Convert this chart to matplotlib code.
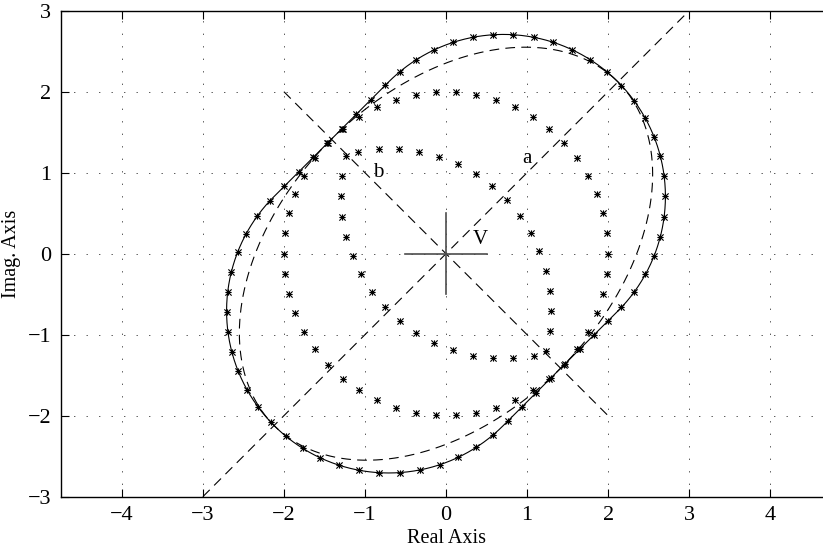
import numpy as np
import matplotlib
matplotlib.use("Agg")
import matplotlib.pyplot as plt
from matplotlib.path import Path

# Geometrie
radius = 2.0            # Kreis um V (nur Marker)
n_steps = 50            # Marker auf dem Kreis, 7.2 Grad Abstand
a_angle = 45.0          # Richtung der Achse a in Grad
half_len = 1.0          # halbe Laenge der Strecke entlang a
ell_a = 3.0             # gestrichelte Ellipse, Halbachse entlang a
ell_b = 2.0             # gestrichelte Ellipse, Halbachse entlang b
a_line = [-3.0, 3.0]    # gestrichelte Achse a (y = x)
b_line = [-2.0, 2.0]    # gestrichelte Achse b (y = -x)
cross_half = 0.5        # Kreuz bei V
x_ticks = [-4, -3, -2, -1, 0, 1, 2, 3, 4]
y_ticks = [-3, -2, -1, 0, 1, 2, 3]
text_labels = ["a", "b", "V"]
text_x = [1.0, -0.84, 0.42]
text_y = [1.18, 1.0, 0.17]

plt.rcParams["font.family"] = ["Liberation Serif", "DejaVu Serif"]
plt.rcParams["lines.scale_dashes"] = False

# Sternmarker wie bei MATLAB: + und x uebereinander
star = Path([(-1, 0), (1, 0), (0, -1), (0, 1), (-1, -1), (1, 1), (-1, 1), (1, -1)],
            [Path.MOVETO, Path.LINETO] * 4)

ea = np.array([np.cos(np.deg2rad(a_angle)), np.sin(np.deg2rad(a_angle))])
c = half_len * ea
step_deg = 360.0 / n_steps
theta = np.deg2rad(np.arange(n_steps) * step_deg)
circ = radius * np.column_stack([np.cos(theta), np.sin(theta)])

# Stadion = Kreis + Strecke entlang a (dichter Pfad)
t1 = np.deg2rad(np.linspace(a_angle - 90, a_angle + 90, 400))
t2 = t1 + np.pi
arc1 = c + radius * np.column_stack([np.cos(t1), np.sin(t1)])
arc2 = -c + radius * np.column_stack([np.cos(t2), np.sin(t2)])
stad = np.vstack([arc1, arc2, arc1[:1]])
seg = np.hypot(*np.diff(stad, axis=0).T)
s = np.concatenate([[0], np.cumsum(seg)])
ds = radius * np.deg2rad(step_deg)
first = np.ceil((a_angle - 90) / step_deg) * step_deg
s_mark = np.arange(radius * np.deg2rad(first - (a_angle - 90)), s[-1] - 1e-6, ds)
stad_mx = np.interp(s_mark, s, stad[:, 0])
stad_my = np.interp(s_mark, s, stad[:, 1])

# Linse = Schnitt der beiden verschobenen Kreise (nur Marker)
half_open = np.rad2deg(np.arccos(half_len / radius))
ang = np.arange(n_steps) * step_deg
lens = []
for ctr, mid in [(c, a_angle + 180), (-c, a_angle)]:
    d = (ang - mid + 180) % 360 - 180
    sel = np.abs(d) <= half_open
    tt = np.deg2rad(ang[sel])
    lens.append(ctr + radius * np.column_stack([np.cos(tt), np.sin(tt)]))
lens = np.vstack(lens)

# Ellipse mit Halbachsen entlang a und b
phi = np.linspace(0, 2 * np.pi, 400)
u = ell_a * np.cos(phi)
v = ell_b * np.sin(phi)
eb = np.array([-ea[1], ea[0]])
ell = np.outer(u, ea) + np.outer(v, eb)

fig = plt.figure(figsize=(8.23, 5.5), dpi=100)
ax = fig.add_axes([61 / 823, 53.3 / 550, 770 / 823, 486 / 550])

dash = (0, (7, 4.5))
ax.plot(ell[:, 0], ell[:, 1], color="k", lw=0.8, linestyle=dash)
ax.plot(a_line, a_line, color="k", lw=0.8, linestyle=dash)
ax.plot(b_line, [-b_line[0], -b_line[1]], color="k", lw=0.8, linestyle=dash)
ax.plot(stad[:, 0], stad[:, 1], color="k", lw=0.8)
mk = dict(linestyle="none", marker=star, markersize=4.5, mec="k", mew=0.8)
ax.plot(stad_mx, stad_my, **mk)
ax.plot(circ[:, 0], circ[:, 1], **mk)
ax.plot(lens[:, 0], lens[:, 1], **mk)
ax.plot([-cross_half, cross_half], [0, 0], color="0.3", lw=1.2)
ax.plot([0, 0], [-cross_half, cross_half], color="0.3", lw=1.2)

for lab, tx, ty in zip(text_labels, text_x, text_y):
    ax.text(tx, ty, lab, fontsize=15, ha="center", va="center")

ax.set_xlim(-4.75, 4.75)
ax.set_ylim(-3, 3)
ax.set_xticks(x_ticks)
ax.set_yticks(y_ticks)
ax.grid(True, color="0.35", linestyle=(0, (1, 8)), lw=0.7)
ax.tick_params(direction="in", length=5.5, width=0.8, labelsize=16,
               top=True, right=True, pad=7)
for sp in ax.spines.values():
    sp.set_linewidth(1.0)
ax.set_xlabel("Real Axis", fontsize=14.5)
ax.set_ylabel("Imag. Axis", fontsize=14.5)
ax.xaxis.set_label_coords(0.5, -0.067)
ax.yaxis.set_label_coords(-0.052, 0.5)

fig.savefig("out.png", dpi=100)
